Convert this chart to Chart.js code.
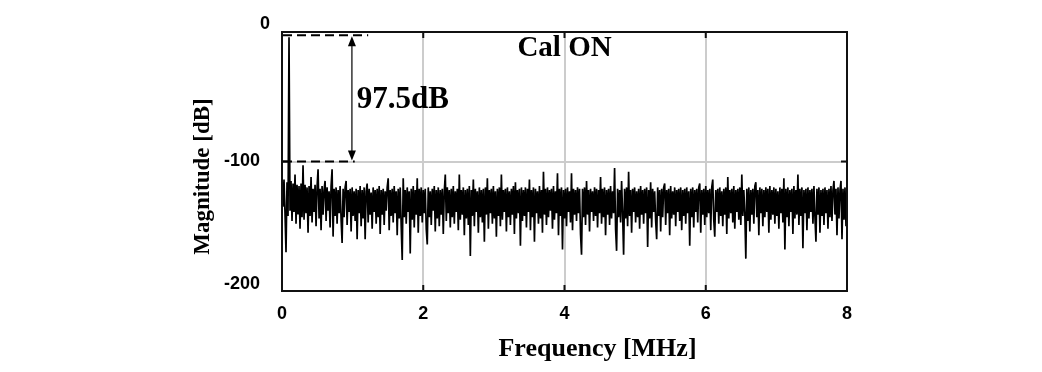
<!DOCTYPE html>
<html><head><meta charset="utf-8">
<script src="https://cdn.jsdelivr.net/npm/chart.js@4.4.1/dist/chart.umd.min.js"></script>
<style>html,body{margin:0;padding:0;background:#fff;}#wrap{width:1042px;height:372px;}</style>
</head><body><div id="wrap"><canvas id="c" width="1042" height="372"></canvas></div>
<script>
// ---- data ----
const freqStartMHz = 0;
const freqStepMHz = 8 / 564;            // FFT bin spacing
const magnitudeDb = [
-112,-135,-114,-140,-170,-116,-142,-4,-138,-115,-146,-117,-139,-110,-148,-118,-141,-119,-152,-117,
-143,-103,-145,-118,-140,-120,-155,-119,-142,-112,-147,-121,-139,-118,-150,-120,-106,-144,-121,-153,
-119,-141,-122,-115,-146,-120,-138,-123,-151,-119,-106,-158,-121,-142,-120,-148,-122,-140,-119,-145,
-163,-121,-143,-120,-115,-149,-122,-139,-121,-154,-120,-142,-123,-146,-121,-160,-122,-140,-119,-150,
-122,-144,-120,-160,-123,-117,-147,-121,-141,-124,-152,-120,-139,-122,-148,-121,-143,-119,-156,-122,
-141,-121,-149,-123,-138,-120,-113,-153,-122,-142,-121,-147,-119,-140,-123,-157,-121,-144,-120,-150,
-176,-113,-143,-122,-148,-120,-139,-123,-171,-121,-145,-119,-151,-122,-141,-113,-155,-121,-142,-120,
-147,-122,-140,-121,-152,-164,-120,-143,-123,-149,-121,-138,-119,-154,-122,-144,-120,-150,-122,-141,
-121,-156,-123,-110,-146,-120,-140,-122,-151,-121,-143,-119,-148,-123,-139,-121,-153,-110,-145,-122,
-141,-120,-157,-122,-144,-121,-149,-119,-173,-122,-142,-114,-150,-121,-139,-123,-155,-120,-143,-122,
-147,-121,-162,-120,-141,-113,-152,-122,-140,-121,-148,-119,-144,-123,-158,-121,-142,-120,-150,-110,
-145,-122,-139,-121,-154,-120,-143,-123,-149,-121,-141,-119,-156,-116,-144,-122,-140,-121,-165,-120,
-146,-122,-142,-120,-151,-121,-139,-114,-153,-122,-143,-120,-162,-121,-140,-123,-148,-119,-144,-122,
-155,-108,-141,-121,-149,-120,-143,-122,-138,-121,-152,-119,-145,-123,-140,-109,-157,-121,-142,-120,
-168,-122,-144,-121,-150,-120,-139,-123,-147,-109,-153,-121,-141,-122,-146,-120,-140,-121,-156,-172,
-121,-143,-120,-149,-115,-141,-122,-154,-121,-139,-123,-146,-120,-142,-121,-151,-122,-140,-112,-148,
-121,-143,-120,-157,-122,-141,-121,-149,-119,-144,-123,-140,-105,-152,-169,-121,-143,-122,-147,-115,
-140,-172,-121,-144,-120,-150,-108,-142,-122,-155,-121,-139,-120,-147,-123,-143,-121,-152,-119,-141,
-122,-148,-121,-140,-120,-166,-122,-144,-116,-151,-121,-139,-123,-146,-160,-120,-142,-122,-154,-121,
-143,-120,-117,-149,-122,-140,-121,-157,-119,-144,-123,-141,-120,-150,-122,-139,-121,-146,-120,-153,
-122,-142,-121,-148,-120,-140,-123,-165,-121,-143,-120,-151,-122,-139,-121,-147,-120,-117,-155,-122,
-141,-121,-149,-119,-143,-122,-140,-121,-153,-120,-114,-145,-158,-122,-139,-121,-148,-120,-142,-123,
-150,-121,-141,-120,-156,-112,-144,-122,-140,-121,-147,-119,-152,-122,-139,-121,-145,-120,-149,-110,
-142,-122,-140,-175,-121,-146,-120,-154,-122,-141,-121,-148,-119,-116,-143,-122,-157,-120,-140,-121,
-150,-122,-143,-120,-139,-121,-155,-119,-145,-122,-141,-120,-148,-121,-142,-123,-152,-120,-140,-121,
-147,-113,-168,-121,-143,-120,-150,-122,-139,-121,-156,-119,-144,-122,-141,-110,-149,-121,-142,-120,
-167,-122,-140,-121,-153,-120,-144,-122,-139,-121,-148,-119,-143,-162,-121,-141,-120,-155,-122,-142,
-121,-149,-120,-140,-122,-152,-121,-143,-119,-146,-122,-115,-141,-121,-157,-120,-144,-122,-115,-160,
-121,-145,-120,-150,-122
];
const xTicks = [0, 2, 4, 6, 8];
const yTicks = [0, -100, -200];
const yTickLabels = ['0', '-100', '-200'];
const signalRefDb = -2.5;
const floorRefDb = -100;
const deltaText = '97.5dB';
const panelText = 'Cal ON';
const xTitle = 'Frequency [MHz]';
const yTitle = 'Magnitude [dB]';

const points = magnitudeDb.map((v, i) => ({ x: freqStartMHz + i * freqStepMHz, y: v }));

const tickFont = 'bold 18px "Liberation Sans", Arial, sans-serif';
const serifBold = (s) => 'bold ' + s + 'px "Liberation Serif", "Times New Roman", serif';

const overlay = {
  id: 'overlay',
  afterDatasetsDraw(chart) {
    const { ctx, chartArea: a, scales: { x, y } } = chart;
    const seg = (x1, y1, x2, y2) => { ctx.beginPath(); ctx.moveTo(x1, y1); ctx.lineTo(x2, y2); ctx.stroke(); };
    ctx.save();
    // frame
    ctx.strokeStyle = '#111'; ctx.lineWidth = 2; ctx.setLineDash([]);
    ctx.strokeRect(a.left, a.top, a.right - a.left, a.bottom - a.top);
    // inward ticks
    xTicks.forEach(v => {
      if (v <= x.min || v >= x.max) return;
      const px = x.getPixelForValue(v);
      seg(px, a.bottom, px, a.bottom - 6); seg(px, a.top, px, a.top + 6);
    });
    yTicks.forEach(v => {
      if (v <= y.min || v >= y.max) return;
      const py = y.getPixelForValue(v);
      seg(a.left, py, a.left + 6, py); seg(a.right, py, a.right - 6, py);
    });
    // reference dashed lines
    ctx.strokeStyle = '#000'; ctx.lineWidth = 2; ctx.setLineDash([9, 5]);
    const yTop = y.getPixelForValue(signalRefDb), yBot = y.getPixelForValue(floorRefDb);
    seg(a.left + 1, yTop, x.getPixelForValue(1.22), yTop);
    seg(a.left + 1, yBot, x.getPixelForValue(1.03), yBot);
    ctx.setLineDash([]);
    // double arrow
    const ax = x.getPixelForValue(0.99);
    ctx.lineWidth = 1.2;
    seg(ax, yTop + 8, ax, yBot - 8);
    ctx.fillStyle = '#000';
    ctx.beginPath(); ctx.moveTo(ax, yTop + 1); ctx.lineTo(ax - 4, yTop + 11); ctx.lineTo(ax + 4, yTop + 11); ctx.closePath(); ctx.fill();
    ctx.beginPath(); ctx.moveTo(ax, yBot - 1); ctx.lineTo(ax - 4, yBot - 11); ctx.lineTo(ax + 4, yBot - 11); ctx.closePath(); ctx.fill();
    // texts
    ctx.fillStyle = '#000';
    ctx.font = serifBold(31); ctx.textAlign = 'left'; ctx.textBaseline = 'middle';
    ctx.fillText(deltaText, x.getPixelForValue(1.06), y.getPixelForValue(-52.5));
    ctx.font = serifBold(29); ctx.textAlign = 'center';
    ctx.fillText(panelText, x.getPixelForValue(4.0), y.getPixelForValue(-12.4));
    // y tick labels
    ctx.font = tickFont; ctx.textAlign = 'right'; ctx.textBaseline = 'middle';
    yTicks.forEach((v, i) => {
      let py = y.getPixelForValue(v), px = a.left - 22;
      if (v === y.max) { py -= 8; px += 10; }
      if (v === y.min) { py -= 7; }
      ctx.fillText(yTickLabels[i], px, py);
    });
    // axis titles
    ctx.font = serifBold(26); ctx.textAlign = 'center'; ctx.textBaseline = 'middle';
    ctx.fillText(xTitle, (a.left + a.right) / 2 + 33, 349);
    ctx.save();
    ctx.translate(203, (a.top + a.bottom) / 2 + 15);
    ctx.rotate(-Math.PI / 2);
    ctx.font = serifBold(23);
    ctx.fillText(yTitle, 0, 0);
    ctx.restore();
    ctx.restore();
  }
};

new Chart(document.getElementById('c'), {
  type: 'line',
  data: { datasets: [{ data: points, borderColor: '#000', borderWidth: 1.7, pointRadius: 0, tension: 0, fill: false, borderJoinStyle: 'bevel' }] },
  options: {
    responsive: false, animation: false, devicePixelRatio: 1, normalized: true,
    layout: { padding: { left: 0, right: 195, top: 32, bottom: 0 } },
    plugins: { legend: { display: false }, tooltip: { enabled: false } },
    scales: {
      x: {
        type: 'linear', min: 0, max: 8,
        afterBuildTicks: s => { s.ticks = xTicks.map(v => ({ value: v })); },
        afterFit: s => { s.height = 81; },
        ticks: { font: { family: '"Liberation Sans", Arial, sans-serif', size: 18, weight: 'bold' }, color: '#000', padding: 12, maxRotation: 0 },
        grid: { color: '#cccccc', lineWidth: 2, drawTicks: false },
        border: { display: false }
      },
      y: {
        type: 'linear', min: -200, max: 0,
        afterBuildTicks: s => { s.ticks = yTicks.map(v => ({ value: v })); },
        afterFit: s => { s.width = 282; },
        ticks: { display: false },
        grid: { color: '#cccccc', lineWidth: 2, drawTicks: false },
        border: { display: false }
      }
    }
  },
  plugins: [overlay]
});
</script>
</body></html>
